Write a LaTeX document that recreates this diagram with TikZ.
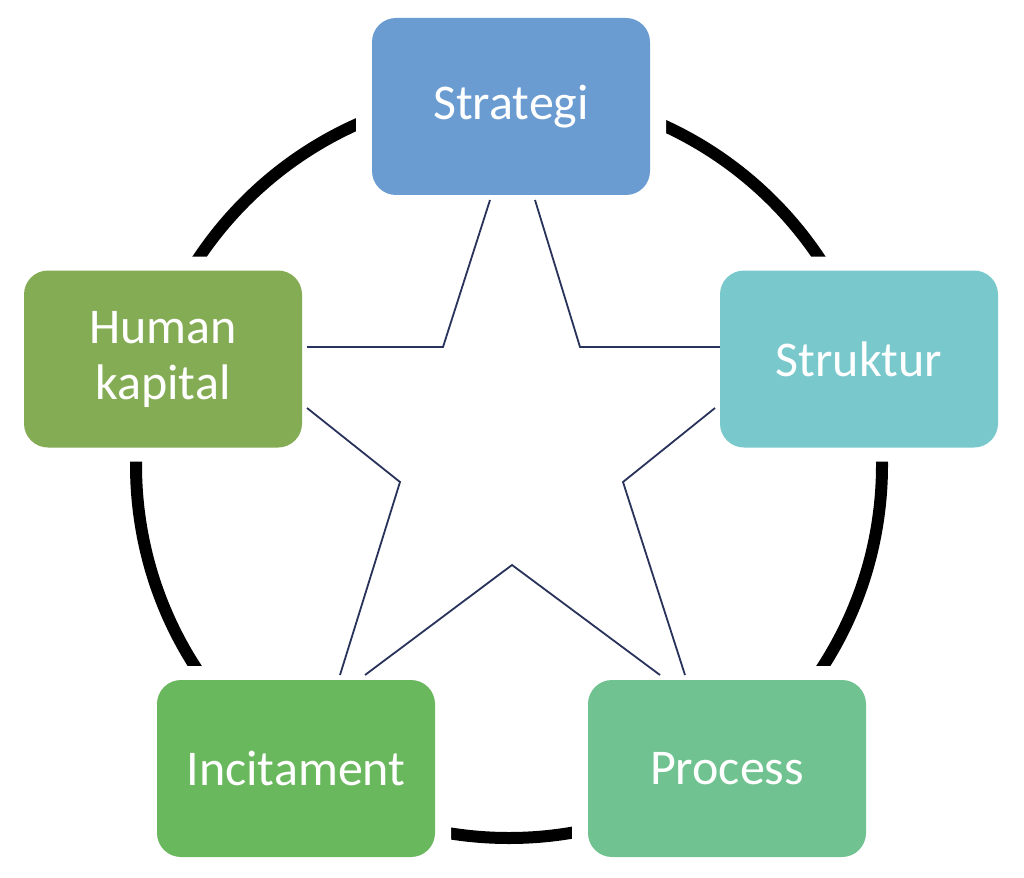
\documentclass[tikz,border=0pt]{standalone}
\usepackage{fontspec}
\setmainfont{Carlito}
\begin{document}
\begin{tikzpicture}[x=1pt,y=-1pt,
  box/.style={draw=none,rounded corners=24pt,minimum width=278pt,minimum height=177pt,inner sep=0pt,
    text=white,font=\fontsize{50}{56}\selectfont,align=center},
  halo/.style={fill=white,rounded corners=30pt,minimum width=310pt,minimum height=205pt,inner sep=0pt},
  star/.style={draw={rgb,255:red,40;green,50;blue,90},line width=1.8pt}]
\useasboundingbox (0,0) rectangle (1024,877);
\fill[white] (0,0) rectangle (1024,877);
\draw[line width=12pt] (509,465) circle (373);
\node[halo] (hs) at (511,106.5) {};
\node[halo] (hh) at (163,359) {};
\node[halo] (ht) at (859,359) {};
\node[halo] (hn) at (296,768.5) {};
\node[halo] (hp) at (727,768.5) {};
\coordinate (i1) at (443,347); \coordinate (i2) at (580,347);
\coordinate (i3) at (400,482); \coordinate (i4) at (623,482);
\coordinate (i5) at (512,565);
\draw[star] (490,200) -- (i1) -- (307,347);
\draw[star] (535,200) -- (i2) -- (720,347);
\draw[star] (307,408) -- (i3) -- (340,675);
\draw[star] (715,408) -- (i4) -- (685,675);
\draw[star] (365,675) -- (i5) -- (660,675);
\node[box,fill={rgb,255:red,106;green,155;blue,209}] (s) at (511,106.5) {Strategi};
\node[box,fill={rgb,255:red,132;green,172;blue,85}] (h) at (163,359) {Human\\kapital};
\node[box,fill={rgb,255:red,120;green,200;blue,204}] (t) at (859,359) {Struktur};
\node[box,fill={rgb,255:red,106;green,184;blue,94}] (n) at (296,768.5) {Incitament};
\node[box,fill={rgb,255:red,112;green,195;blue,145}] (p) at (727,768.5) {Process};
\end{tikzpicture}
\end{document}
